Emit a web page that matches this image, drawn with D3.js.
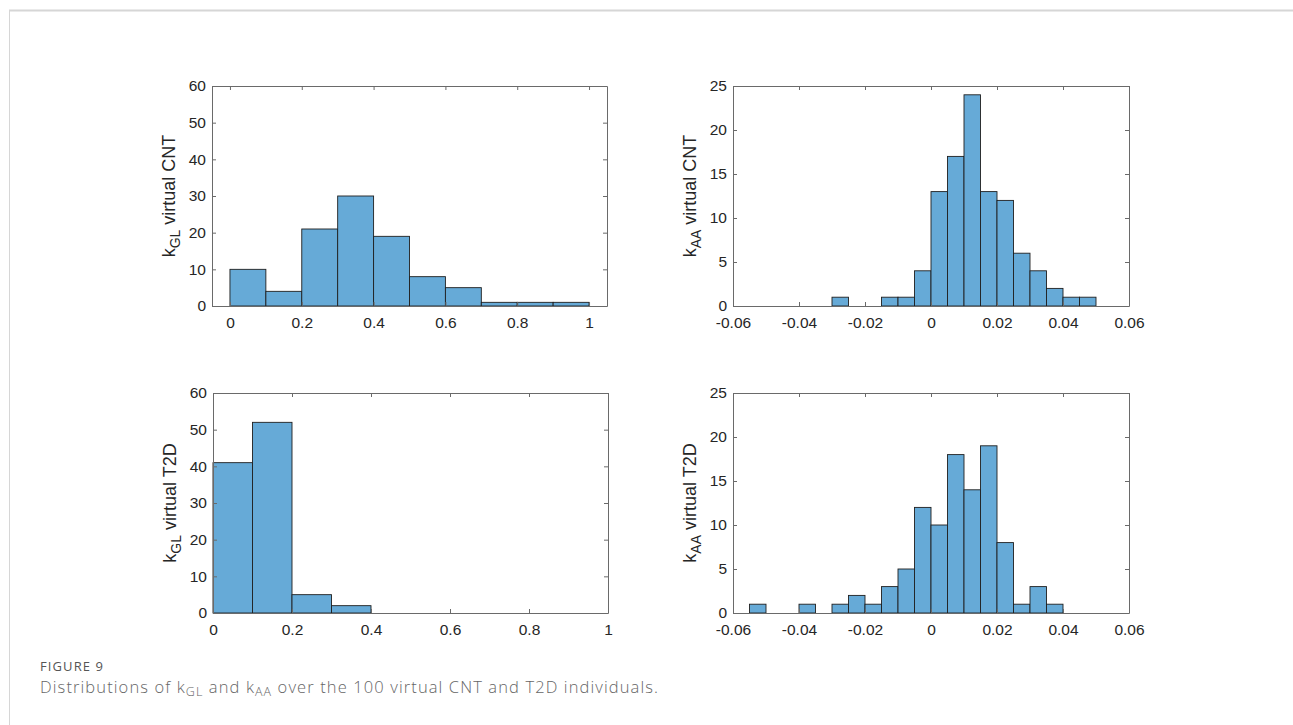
<!DOCTYPE html>
<html>
<head>
<meta charset="utf-8">
<script src="https://cdn.jsdelivr.net/npm/d3@7"></script>
<style>
  body { margin: 0; background: #fff; }
  svg { display: block; }
</style>
</head>
<body>
<svg id="chart" width="1293" height="725"></svg>
<script>
// histogram counts (bins of fixed width starting at binStart)
const glCntStart = 0, glCntWidth = 0.1;
const glCntCounts = [10, 4, 21, 30, 19, 8, 5, 1, 1, 1];

const aaCntStart = -0.03, aaCntWidth = 0.005;
const aaCntCounts = [1, 0, 0, 1, 1, 4, 13, 17, 24, 13, 12, 6, 4, 2, 1, 1];

const glT2dStart = 0, glT2dWidth = 0.1;
const glT2dCounts = [41, 52, 5, 2];

const aaT2dStart = -0.055, aaT2dWidth = 0.005;
const aaT2dCounts = [1, 0, 0, 1, 0, 1, 2, 1, 3, 5, 12, 10, 18, 14, 19, 8, 1, 3, 1];

// axis ticks
const glXTicks = [0, 0.2, 0.4, 0.6, 0.8, 1];
const aaXTicks = [-0.06, -0.04, -0.02, 0, 0.02, 0.04, 0.06];
const glYTicks = [0, 10, 20, 30, 40, 50, 60];
const aaYTicks = [0, 5, 10, 15, 20, 25];

const panels = [
  { start: glCntStart, width: glCntWidth, counts: glCntCounts, xDomain: [-0.05, 1.05], xTicks: glXTicks,
    yMax: 60, yTicks: glYTicks, sub: "GL", group: "CNT", box: [212, 86, 607, 306] },
  { start: aaCntStart, width: aaCntWidth, counts: aaCntCounts, xDomain: [-0.06, 0.06], xTicks: aaXTicks,
    yMax: 25, yTicks: aaYTicks, sub: "AA", group: "CNT", box: [733, 86, 1129, 306] },
  { start: glT2dStart, width: glT2dWidth, counts: glT2dCounts, xDomain: [0, 1], xTicks: glXTicks,
    yMax: 60, yTicks: glYTicks, sub: "GL", group: "T2D", box: [213, 393, 608, 613] },
  { start: aaT2dStart, width: aaT2dWidth, counts: aaT2dCounts, xDomain: [-0.06, 0.06], xTicks: aaXTicks,
    yMax: 25, yTicks: aaYTicks, sub: "AA", group: "T2D", box: [733, 393, 1129, 613] },
];

const svg = d3.select("#chart");
const font = "'Liberation Sans', Arial, sans-serif";
const textColor = "#262626";
const axisColor = "#6a6a6a";
const barFill = "#66aad7";
const barStroke = "#1f1f1f";
const fmt = (d) => d3.format("~g")(d).replace("\u2212", "-");

// page frame
svg.append("line").attr("x1", 9).attr("x2", 1293).attr("y1", 10.5).attr("y2", 10.5)
  .attr("stroke", "#d6d6d6").attr("stroke-width", 2);
svg.append("line").attr("x1", 9.5).attr("x2", 9.5).attr("y1", 10).attr("y2", 725)
  .attr("stroke", "#d6d6d6").attr("stroke-width", 1);

panels.forEach((p) => {
  const [x0, y0, x1, y1] = p.box;
  const x = d3.scaleLinear().domain(p.xDomain).range([x0, x1]);
  const y = d3.scaleLinear().domain([0, p.yMax]).range([y1, y0]);
  const g = svg.append("g");

  // bars
  g.append("g")
    .selectAll("rect")
    .data(p.counts)
    .join("rect")
    .attr("x", (d, i) => x(p.start + i * p.width))
    .attr("width", (d, i) => x(p.start + (i + 1) * p.width) - x(p.start + i * p.width))
    .attr("y", (d) => y(d))
    .attr("height", (d) => y(0) - y(d))
    .attr("fill", barFill)
    .attr("stroke", barStroke)
    .attr("stroke-width", 0.9);

  const style = (sel, labels) => {
    sel.selectAll(".domain").attr("stroke", axisColor);
    sel.selectAll(".tick line").attr("stroke", axisColor);
    sel.selectAll("text")
      .attr("fill", textColor)
      .style("font-family", font)
      .style("font-size", "15.5px")
      .style("display", labels ? null : "none");
  };

  // bottom / top
  g.append("g").attr("transform", `translate(0,${y1})`)
    .call(d3.axisBottom(x).tickValues(p.xTicks).tickFormat(fmt).tickSizeInner(-4).tickSizeOuter(0).tickPadding(11))
    .call((s) => style(s, true));
  g.append("g").attr("transform", `translate(0,${y0})`)
    .call(d3.axisTop(x).tickValues(p.xTicks).tickSizeInner(-4).tickSizeOuter(0))
    .call((s) => style(s, false));
  // left / right
  g.append("g").attr("transform", `translate(${x0},0)`)
    .call(d3.axisLeft(y).tickValues(p.yTicks).tickFormat(fmt).tickSizeInner(-4).tickSizeOuter(0).tickPadding(6))
    .call((s) => style(s, true));
  g.append("g").attr("transform", `translate(${x1},0)`)
    .call(d3.axisRight(y).tickValues(p.yTicks).tickSizeInner(-4).tickSizeOuter(0))
    .call((s) => style(s, false));

  // y label: k_sub virtual GROUP
  const lab = g.append("text")
    .attr("transform", `translate(${x0 - 37},${(y0 + y1) / 2}) rotate(-90)`)
    .attr("text-anchor", "middle")
    .attr("fill", textColor)
    .style("font-family", font)
    .style("font-size", "18px");
  lab.append("tspan").text("k");
  lab.append("tspan").attr("dy", 5).style("font-size", "14px").text(p.sub);
  lab.append("tspan").attr("dy", -5).text(" virtual " + p.group);
});

// caption
svg.append("text")
  .attr("x", 40).attr("y", 671)
  .attr("fill", "#555")
  .attr("textLength", 63)
  .attr("lengthAdjust", "spacing")
  .style("font-family", "'Open Sans', sans-serif")
  .style("font-size", "13px")
  .style("font-weight", 500)
  .text("FIGURE 9");

const cap = svg.append("text")
  .attr("x", 40).attr("y", 693)
  .attr("fill", "#666")
  .attr("textLength", 618)
  .attr("lengthAdjust", "spacing")
  .style("font-family", "'Open Sans', sans-serif")
  .style("font-size", "16.5px")
  .style("font-weight", 300);
cap.append("tspan").text("Distributions of k");
cap.append("tspan").attr("dy", 3).style("font-size", "12.5px").text("GL");
cap.append("tspan").attr("dy", -3).text(" and k");
cap.append("tspan").attr("dy", 3).style("font-size", "12.5px").text("AA");
cap.append("tspan").attr("dy", -3).text(" over the 100 virtual CNT and T2D individuals.");
</script>
</body>
</html>
